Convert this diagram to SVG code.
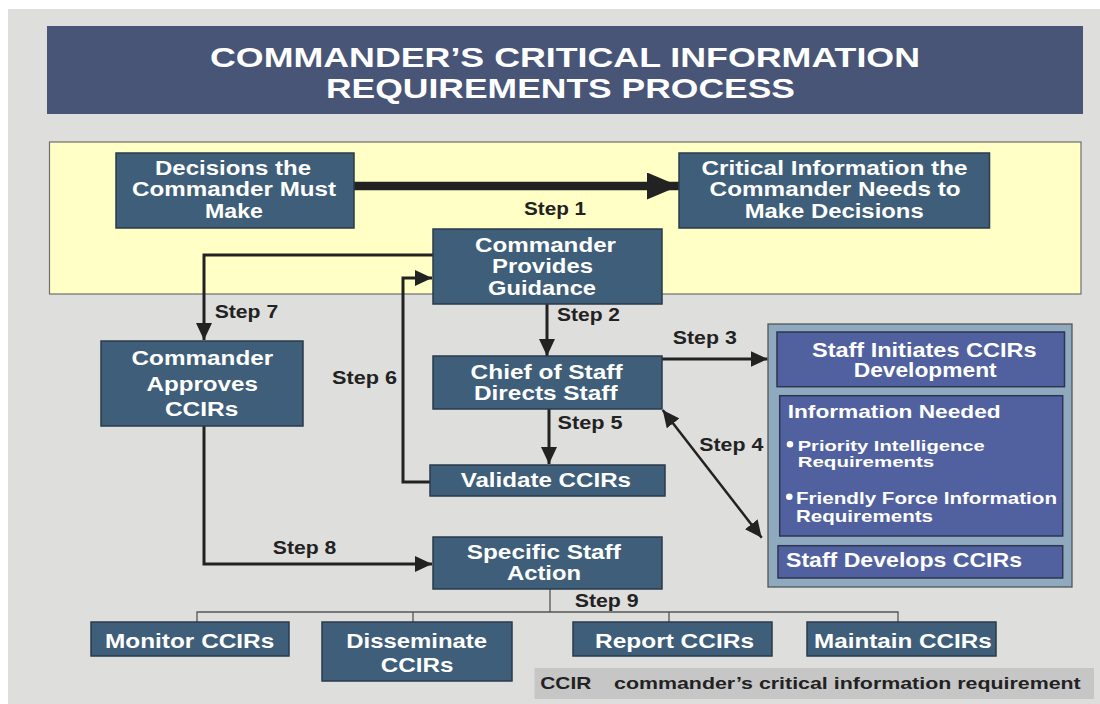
<svg xmlns="http://www.w3.org/2000/svg" width="1100" height="704" viewBox="0 0 1100 704">
<style>
text{font-family:"Liberation Sans",Arial,Helvetica,sans-serif;font-weight:bold}
.node rect{fill:#3E5E79;stroke:#2A3B4B;stroke-width:1.5}
.node text{fill:#FFFFFF;font-size:20px}
.blue rect{fill:#5161A0;stroke:#2E3550;stroke-width:1.5}
.blue text{fill:#FFFFFF}
.step{fill:#222222;font-size:18.5px}
.conn{fill:none;stroke:#222222;stroke-width:3}
.tree{fill:none;stroke:#555555;stroke-width:1.3}
</style>
<defs>
<marker id="ah" markerUnits="userSpaceOnUse" markerWidth="18" markerHeight="16" refX="17" refY="8" orient="auto-start-reverse"><path d="M0,0 L17,8 L0,16 z" fill="#222222"/></marker>
<marker id="ahBig" markerUnits="userSpaceOnUse" markerWidth="33" markerHeight="27" refX="32" refY="13.5" orient="auto"><path d="M0,0 L32,13.5 L0,27 z" fill="#222222"/></marker>
</defs>
<rect x="0" y="0" width="1100" height="704" fill="#FFFFFF"/>
<rect x="8" y="9" width="1092" height="695" fill="#DEDEDC"/>
<g id="title">
<rect x="47" y="26" width="1036" height="88" fill="#485577"/>
<text x="210" y="67" font-size="28.5" fill="#FFFFFF" textLength="710" lengthAdjust="spacingAndGlyphs">COMMANDER’S CRITICAL INFORMATION</text>
<text x="326" y="97.5" font-size="28.5" fill="#FFFFFF" textLength="469" lengthAdjust="spacingAndGlyphs">REQUIREMENTS PROCESS</text>
</g>
<rect id="yellow-zone" x="49.5" y="142" width="1031.5" height="152" fill="#FFFFC6" stroke="#6E6E6E" stroke-width="1.2"/>
<g id="connectors">
<line class="conn" x1="354" y1="186" x2="679" y2="186" style="stroke-width:8.3" marker-end="url(#ahBig)"/>
<polyline class="conn" points="433,255 204,255 204,340" marker-end="url(#ah)"/>
<polyline class="conn" points="430,482 403,482 403,278 432,278" marker-end="url(#ah)"/>
<line class="conn" x1="547" y1="304" x2="547" y2="356" marker-end="url(#ah)"/>
<line class="conn" x1="549" y1="409" x2="549" y2="464" marker-end="url(#ah)"/>
<line class="conn" x1="662" y1="359" x2="767.5" y2="359" marker-end="url(#ah)"/>
<line class="conn" x1="662.7" y1="410" x2="761.7" y2="537.7" style="stroke-width:2.5" marker-start="url(#ah)" marker-end="url(#ah)"/>
<polyline class="conn" points="204,426 204,564 432,564" marker-end="url(#ah)"/>
<line class="tree" x1="550" y1="589" x2="550" y2="612"/>
<line class="tree" x1="196.5" y1="612" x2="898.5" y2="612"/>
<line class="tree" x1="197" y1="612" x2="197" y2="622"/>
<line class="tree" x1="413" y1="612" x2="413" y2="622"/>
<line class="tree" x1="669" y1="612" x2="669" y2="622"/>
<line class="tree" x1="898" y1="612" x2="898" y2="622"/>
<text class="step" x="524" y="215" textLength="62" lengthAdjust="spacingAndGlyphs">Step 1</text>
<text class="step" x="557" y="320.7" textLength="63" lengthAdjust="spacingAndGlyphs">Step 2</text>
<text class="step" x="672.8" y="344" textLength="64" lengthAdjust="spacingAndGlyphs">Step 3</text>
<text class="step" x="699.3" y="450.7" textLength="64" lengthAdjust="spacingAndGlyphs">Step 4</text>
<text class="step" x="557.5" y="429.3" textLength="65" lengthAdjust="spacingAndGlyphs">Step 5</text>
<text class="step" x="332" y="384" textLength="65" lengthAdjust="spacingAndGlyphs">Step 6</text>
<text class="step" x="214.7" y="318.3" textLength="63.5" lengthAdjust="spacingAndGlyphs">Step 7</text>
<text class="step" x="272.8" y="554" textLength="63.5" lengthAdjust="spacingAndGlyphs">Step 8</text>
<text class="step" x="574.7" y="607.3" textLength="64" lengthAdjust="spacingAndGlyphs">Step 9</text>
</g>
<g id="decisions" class="node">
<rect x="116" y="153" width="238" height="75"/>
<text x="155" y="175" font-size="19.5" textLength="156" lengthAdjust="spacingAndGlyphs">Decisions the</text>
<text x="132" y="196" font-size="19.5" textLength="204" lengthAdjust="spacingAndGlyphs">Commander Must</text>
<text x="205" y="218" font-size="19.5" textLength="58" lengthAdjust="spacingAndGlyphs">Make</text>
</g>
<g id="critical-info" class="node">
<rect x="679" y="153" width="310.5" height="75"/>
<text x="701.5" y="175" font-size="19.5" textLength="266" lengthAdjust="spacingAndGlyphs">Critical Information the</text>
<text x="709.6" y="196" font-size="19.5" textLength="251" lengthAdjust="spacingAndGlyphs">Commander Needs to</text>
<text x="744.7" y="218" font-size="19.5" textLength="179" lengthAdjust="spacingAndGlyphs">Make Decisions</text>
</g>
<g id="guidance" class="node">
<rect x="433" y="229" width="229" height="75"/>
<text x="475" y="251.7" textLength="141" lengthAdjust="spacingAndGlyphs">Commander</text>
<text x="492" y="273" textLength="101" lengthAdjust="spacingAndGlyphs">Provides</text>
<text x="488" y="295" textLength="108" lengthAdjust="spacingAndGlyphs">Guidance</text>
</g>
<g id="approves" class="node">
<rect x="101" y="341" width="202" height="85"/>
<text x="131.6" y="365" textLength="141.6" lengthAdjust="spacingAndGlyphs">Commander</text>
<text x="146.5" y="391" textLength="111.4" lengthAdjust="spacingAndGlyphs">Approves</text>
<text x="164.9" y="415.7" textLength="73.4" lengthAdjust="spacingAndGlyphs">CCIRs</text>
</g>
<g id="chief" class="node">
<rect x="433" y="356" width="229" height="53"/>
<text x="470.6" y="379.3" font-size="21" textLength="152" lengthAdjust="spacingAndGlyphs">Chief of Staff</text>
<text x="474" y="400" font-size="21" textLength="143.5" lengthAdjust="spacingAndGlyphs">Directs Staff</text>
</g>
<g id="validate" class="node">
<rect x="430" y="465" width="235" height="31"/>
<text x="460.7" y="486.7" textLength="170.3" lengthAdjust="spacingAndGlyphs">Validate CCIRs</text>
</g>
<g id="specific" class="node">
<rect x="433" y="537" width="229" height="52"/>
<text x="466.8" y="558.7" font-size="21" textLength="154" lengthAdjust="spacingAndGlyphs">Specific Staff</text>
<text x="507" y="580" font-size="21" textLength="74" lengthAdjust="spacingAndGlyphs">Action</text>
</g>
<g id="monitor" class="node">
<rect x="91" y="622" width="198" height="34"/>
<text x="105" y="648.3" font-size="21" textLength="169.3" lengthAdjust="spacingAndGlyphs">Monitor CCIRs</text>
</g>
<g id="disseminate" class="node">
<rect x="322" y="622" width="190" height="59"/>
<text x="346.3" y="648.3" font-size="21" textLength="140.8" lengthAdjust="spacingAndGlyphs">Disseminate</text>
<text x="380.7" y="671.7" font-size="21" textLength="72.7" lengthAdjust="spacingAndGlyphs">CCIRs</text>
</g>
<g id="report" class="node">
<rect x="573" y="622" width="199" height="34"/>
<text x="595" y="647.7" font-size="21" textLength="159" lengthAdjust="spacingAndGlyphs">Report CCIRs</text>
</g>
<g id="maintain" class="node">
<rect x="807" y="622" width="189" height="34"/>
<text x="814" y="647.7" font-size="21" textLength="177.7" lengthAdjust="spacingAndGlyphs">Maintain CCIRs</text>
</g>
<g id="staff-panel">
<rect x="768" y="324" width="304" height="263" fill="#8FAABF" stroke="#555555" stroke-width="1.3"/>
<g id="staff-initiates" class="blue">
<rect x="777" y="332" width="287.5" height="54.7"/>
<text x="812" y="356.7" font-size="20" textLength="224.5" lengthAdjust="spacingAndGlyphs">Staff Initiates CCIRs</text>
<text x="853.7" y="377" font-size="20" textLength="143" lengthAdjust="spacingAndGlyphs">Development</text>
</g>
<g id="info-needed" class="blue">
<rect x="779.7" y="395.7" width="283" height="140.3"/>
<text x="787.7" y="418.3" font-size="18.5" textLength="213" lengthAdjust="spacingAndGlyphs">Information Needed</text>
<circle cx="790" cy="444.3" r="3.3" fill="#FFFFFF"/>
<text x="797.7" y="450.5" font-size="15.5" textLength="187" lengthAdjust="spacingAndGlyphs">Priority Intelligence</text>
<text x="797.7" y="466.5" font-size="15.5" textLength="136.6" lengthAdjust="spacingAndGlyphs">Requirements</text>
<circle cx="789.3" cy="496.7" r="3.3" fill="#FFFFFF"/>
<text x="796" y="504" font-size="16.3" textLength="261" lengthAdjust="spacingAndGlyphs">Friendly Force Information</text>
<text x="796" y="521.7" font-size="16.3" textLength="137" lengthAdjust="spacingAndGlyphs">Requirements</text>
</g>
<g id="staff-develops" class="blue">
<rect x="778" y="545.7" width="284.7" height="32.3"/>
<text x="786" y="567.3" font-size="20.5" textLength="236" lengthAdjust="spacingAndGlyphs">Staff Develops CCIRs</text>
</g>
</g>
<g id="legend">
<rect x="534.5" y="668" width="559.5" height="31" fill="#C6C6C6"/>
<text x="540.3" y="689.3" font-size="16.7" fill="#222222" textLength="51" lengthAdjust="spacingAndGlyphs">CCIR</text>
<text x="614" y="689.3" font-size="16.7" fill="#222222" textLength="466.7" lengthAdjust="spacingAndGlyphs">commander’s critical information requirement</text>
</g>
</svg>
